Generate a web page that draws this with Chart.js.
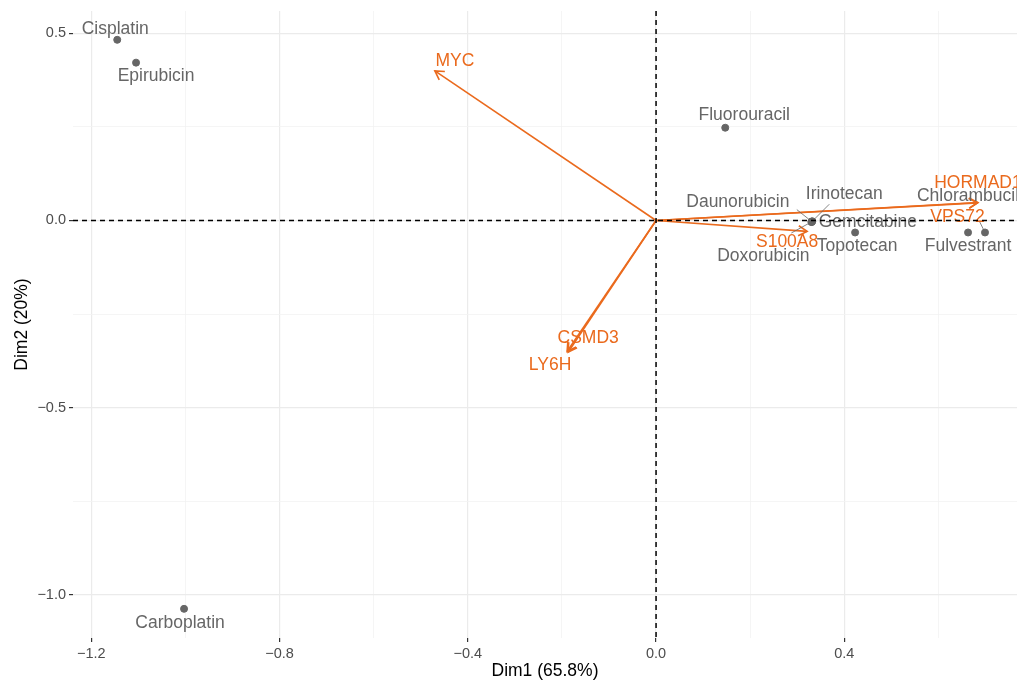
<!DOCTYPE html>
<html>
<head>
<meta charset="utf-8">
<script src="https://cdn.jsdelivr.net/npm/chart.js@4.4.1/dist/chart.umd.min.js"></script>
<style>
  html, body { margin: 0; padding: 0; background: #fff; }
  #wrap { width: 1017px; height: 680px; }
</style>
</head>
<body>
<div id="wrap"><canvas id="biplot" width="1017" height="680"></canvas></div>
<script>
// individuals (drugs)
const drugNames = ['Cisplatin', 'Epirubicin', 'Carboplatin', 'Fluorouracil', 'Daunorubicin', 'Irinotecan',
                   'Gemcitabine', 'Doxorubicin', 'Topotecan', 'Fulvestrant', 'Chlorambucil'];
const drugDim1 = [-1.145, -1.105, -1.003, 0.147, 0.331, 0.332, 0.331, 0.330, 0.423, 0.663, 0.699];
const drugDim2 = [0.483, 0.422, -1.038, 0.248, -0.003, -0.002, -0.004, -0.004, -0.032, -0.032, -0.032];

// variables (genes)
const geneNames = ['MYC', 'CSMD3', 'LY6H', 'S100A8', 'HORMAD1', 'VPS72'];
const geneDim1 = [-0.470, -0.189, -0.187, 0.321, 0.684, 0.683];
const geneDim2 = [0.400, -0.350, -0.352, -0.029, 0.048, 0.047];

// axes
const xMajorTicks = [-1.2, -0.8, -0.4, 0, 0.4];
const xMinorTicks = [-1.0, -0.6, -0.2, 0.2, 0.6];
const yMajorTicks = [-1.0, -0.5, 0, 0.5];
const yMinorTicks = [-0.75, -0.25, 0.25];
const xTitle = 'Dim1 (65.8%)';
const yTitle = 'Dim2 (20%)';

// label placement (pixel shifts, repel-style) and connector ends
const drugLabelShift = {
  Cisplatin: [-2, -11], Epirubicin: [20, 14], Carboplatin: [-4, 14], Fluorouracil: [19, -13],
  Daunorubicin: [-74, -19], Irinotecan: [32, -27], Gemcitabine: [56, 0], Doxorubicin: [-48, 34],
  Topotecan: [2, 14], Fulvestrant: [0, 14], Chlorambucil: [-17, -36]
};
const drugSegments = {
  Daunorubicin: [-15, -12], Irinotecan: [17, -17], Doxorubicin: [-20, 11], Chlorambucil: [-6, -12]
};
const geneLabelShift = {
  MYC: [20, -10], CSMD3: [21, -13], LY6H: [-18, 13], S100A8: [-20, 11], HORMAD1: [0, -19], VPS72: [-20, 14]
};

const GREY = '#666666';
const ORANGE = '#EA6A1D';
const FONT = '"Liberation Sans", Arial, Helvetica, sans-serif';

const isIn = (arr, v) => arr.some(t => Math.abs(t - v) < 1e-9);
const fmt = v => (v < -1e-9 ? '\u2212' : '') + Math.abs(v).toFixed(1);

const datasets = [];
geneNames.forEach((g, i) => {
  datasets.push({
    type: 'line',
    label: g,
    data: [{x: 0, y: 0}, {x: geneDim1[i], y: geneDim2[i]}],
    borderColor: ORANGE,
    borderWidth: 1.6,
    pointRadius: 0,
    fill: false,
    isArrow: true
  });
});
datasets.push({
  type: 'scatter',
  label: 'drugs',
  data: drugNames.map((n, i) => ({x: drugDim1[i], y: drugDim2[i]})),
  backgroundColor: GREY,
  borderColor: GREY,
  pointRadius: 3.5
});

const arrowPlugin = {
  id: 'arrows',
  afterDatasetsDraw(chart) {
    const ctx = chart.ctx;
    ctx.save();
    chart.data.datasets.forEach((ds, i) => {
      if (!ds.isArrow) return;
      const pts = chart.getDatasetMeta(i).data;
      const a = pts[0], b = pts[1];
      const ang = Math.atan2(b.y - a.y, b.x - a.x);
      const len = 10, spread = Math.PI / 6;
      ctx.strokeStyle = ORANGE;
      ctx.lineWidth = 1.6;
      ctx.beginPath();
      ctx.moveTo(b.x - len * Math.cos(ang - spread), b.y - len * Math.sin(ang - spread));
      ctx.lineTo(b.x, b.y);
      ctx.lineTo(b.x - len * Math.cos(ang + spread), b.y - len * Math.sin(ang + spread));
      ctx.stroke();
    });
    ctx.restore();
  }
};

const labelPlugin = {
  id: 'labels',
  afterDatasetsDraw(chart) {
    const ctx = chart.ctx;
    const xs = chart.scales.x, ys = chart.scales.y;
    ctx.save();
    ctx.font = '17.5px ' + FONT;
    ctx.textAlign = 'center';
    ctx.textBaseline = 'middle';
    // connectors
    ctx.strokeStyle = GREY;
    ctx.lineWidth = 0.8;
    drugNames.forEach((n, i) => {
      const s = drugSegments[n];
      if (!s) return;
      const px = xs.getPixelForValue(drugDim1[i]), py = ys.getPixelForValue(drugDim2[i]);
      ctx.beginPath();
      ctx.moveTo(px, py);
      ctx.lineTo(px + s[0], py + s[1]);
      ctx.stroke();
    });
    ctx.fillStyle = GREY;
    drugNames.forEach((n, i) => {
      const s = drugLabelShift[n];
      ctx.fillText(n, xs.getPixelForValue(drugDim1[i]) + s[0], ys.getPixelForValue(drugDim2[i]) + s[1]);
    });
    ctx.fillStyle = ORANGE;
    geneNames.forEach((g, i) => {
      const s = geneLabelShift[g];
      ctx.fillText(g, xs.getPixelForValue(geneDim1[i]) + s[0], ys.getPixelForValue(geneDim2[i]) + s[1]);
    });
    ctx.restore();
  }
};

const zeroLinePlugin = {
  id: 'zeroLines',
  afterDraw(chart) {
    const ctx = chart.ctx;
    const a = chart.chartArea;
    const x0 = chart.scales.x.getPixelForValue(0);
    const y0 = chart.scales.y.getPixelForValue(0);
    ctx.save();
    ctx.strokeStyle = '#000';
    ctx.lineWidth = 1.5;
    ctx.setLineDash([5, 4]);
    ctx.beginPath();
    ctx.moveTo(x0, a.top);
    ctx.lineTo(x0, a.bottom);
    ctx.moveTo(a.left, y0);
    ctx.lineTo(a.right, y0);
    ctx.stroke();
    ctx.restore();
  }
};

const gridFor = (major) => ({
  color: c => (c.tick && isIn(major, c.tick.value)) ? '#EBEBEB' : '#F3F3F3',
  lineWidth: c => (c.tick && isIn(major, c.tick.value)) ? 1.2 : 0.8,
  tickColor: c => (c.tick && isIn(major, c.tick.value)) ? '#333333' : 'rgba(0,0,0,0)',
  tickWidth: 1.2,
  tickLength: 4,
  drawTicks: true
});

new Chart(document.getElementById('biplot'), {
  data: { datasets: datasets },
  options: {
    responsive: false,
    devicePixelRatio: 1,
    animation: false,
    layout: { autoPadding: false, padding: { top: 11, right: 0, left: 0, bottom: 0 } },
    plugins: { legend: { display: false }, tooltip: { enabled: false } },
    scales: {
      x: {
        type: 'linear',
        min: -1.239,
        max: 0.767,
        afterBuildTicks: s => { s.ticks = xMajorTicks.concat(xMinorTicks).sort((a, b) => a - b).map(v => ({value: v})); },
        afterFit: s => { s.height = 42; s.paddingLeft = 0; s.paddingRight = 0; },
        border: { display: false },
        grid: gridFor(xMajorTicks),
        ticks: {
          autoSkip: false,
          maxRotation: 0,
          padding: 3,
          color: '#4D4D4D',
          font: { family: FONT, size: 14.5 },
          callback: v => isIn(xMajorTicks, v) ? fmt(v) : ''
        },
        title: {
          display: true,
          text: xTitle,
          color: '#000',
          padding: { top: 0, bottom: 0 },
          font: { family: FONT, size: 17.5, lineHeight: 1 }
        }
      },
      y: {
        type: 'linear',
        min: -1.116,
        max: 0.560,
        afterBuildTicks: s => { s.ticks = yMajorTicks.concat(yMinorTicks).sort((a, b) => a - b).map(v => ({value: v})); },
        afterFit: s => { s.width = 73; s.paddingTop = 0; s.paddingBottom = 0; },
        border: { display: false },
        grid: gridFor(yMajorTicks),
        ticks: {
          autoSkip: false,
          padding: 3,
          color: '#4D4D4D',
          font: { family: FONT, size: 14.5 },
          callback: v => isIn(yMajorTicks, v) ? fmt(v) : ''
        },
        title: {
          display: true,
          text: yTitle,
          color: '#000',
          padding: { top: 13, bottom: 0 },
          font: { family: FONT, size: 17.5, lineHeight: 1 }
        }
      }
    }
  },
  plugins: [arrowPlugin, labelPlugin, zeroLinePlugin]
});
</script>
</body>
</html>
